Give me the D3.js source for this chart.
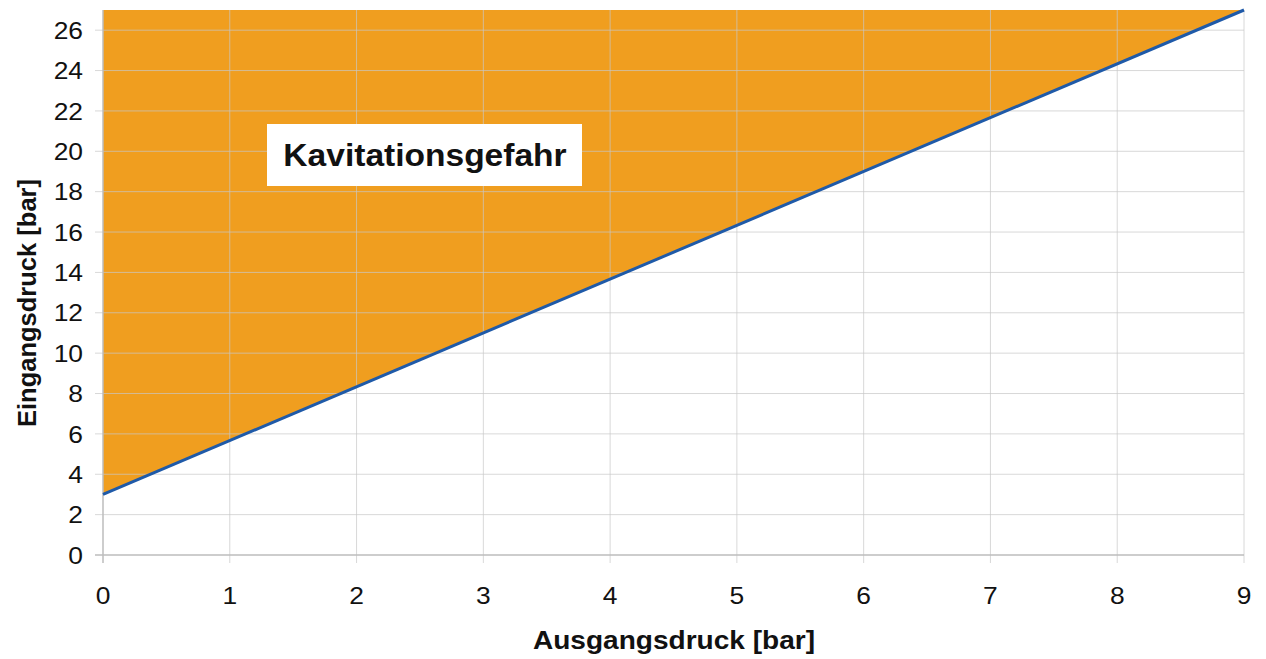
<!DOCTYPE html>
<html lang="de">
<head>
<meta charset="utf-8">
<title>Kavitationsgefahr</title>
<script src="https://cdn.jsdelivr.net/npm/d3@7"></script>
<style>
  body { margin: 0; background: #fff; }
  text { font-family: "Liberation Sans", Arial, sans-serif; }
</style>
</head>
<body>
<div id="main"></div>
<script>
// limit line: inlet pressure vs outlet pressure
const outletPressure = [0, 9];
const inletPressure = [3, 27];
const xTicks = [0, 1, 2, 3, 4, 5, 6, 7, 8, 9];
const yTicks = [0, 2, 4, 6, 8, 10, 12, 14, 16, 18, 20, 22, 24, 26];
const zoneLabel = "Kavitationsgefahr";

const width = 1266, height = 659;
const m = { left: 103, right: 22, top: 10, bottom: 104 };
const stretch = 1.1; // source picture is a bit wider than tall

const svg = d3.select("#main").append("svg")
  .attr("width", width)
  .attr("height", height);

const x = d3.scaleLinear().domain([0, 9]).range([m.left, width - m.right]);
const y = d3.scaleLinear().domain([0, 27]).range([height - m.bottom, m.top]);

const pts = outletPressure.map((d, i) => [d, inletPressure[i]]);

// orange danger area above the line
const area = d3.area()
  .x(d => x(d[0]))
  .y0(y(27))
  .y1(d => y(d[1]));

svg.append("path")
  .datum(pts)
  .attr("d", area)
  .attr("fill", "#f09e1f");

// grid
svg.append("g")
  .selectAll("line")
  .data(yTicks.filter(d => d > 0))
  .enter().append("line")
  .attr("x1", x(0) - 8).attr("x2", x(9))
  .attr("y1", d => y(d)).attr("y2", d => y(d))
  .attr("stroke", "#c8c8c8").attr("stroke-opacity", 0.7).attr("stroke-width", 1);

svg.append("g")
  .selectAll("line")
  .data(xTicks.filter(d => d > 0))
  .enter().append("line")
  .attr("x1", d => x(d)).attr("x2", d => x(d))
  .attr("y1", y(27)).attr("y2", y(0) + 8)
  .attr("stroke", "#c8c8c8").attr("stroke-opacity", 0.7).attr("stroke-width", 1);

// axes lines
svg.append("line")
  .attr("x1", x(0) - 8).attr("x2", x(9))
  .attr("y1", y(0)).attr("y2", y(0))
  .attr("stroke", "#bdbdbd").attr("stroke-width", 1.5);
svg.append("line")
  .attr("x1", x(0)).attr("x2", x(0))
  .attr("y1", y(27)).attr("y2", y(0) + 8)
  .attr("stroke", "#bdbdbd").attr("stroke-width", 1.5);

// limit line
svg.append("path")
  .datum(pts)
  .attr("d", d3.line().x(d => x(d[0])).y(d => y(d[1])))
  .attr("fill", "none")
  .attr("stroke", "#1f5aa8")
  .attr("stroke-width", 3);

// tick labels
svg.append("g")
  .selectAll("text")
  .data(yTicks)
  .enter().append("text")
  .attr("transform", d => "translate(" + (x(0) - 20) + "," + y(d) + ") scale(" + stretch + ",1)")
  .attr("dy", "0.36em")
  .attr("text-anchor", "end")
  .attr("font-size", "24px")
  .attr("fill", "#111")
  .text(d => d);

svg.append("g")
  .selectAll("text")
  .data(xTicks)
  .enter().append("text")
  .attr("transform", d => "translate(" + x(d) + ",604) scale(" + stretch + ",1)")
  .attr("text-anchor", "middle")
  .attr("font-size", "24px")
  .attr("fill", "#111")
  .text(d => d);

// axis titles
svg.append("text")
  .attr("transform", "translate(674,649) scale(" + stretch + ",1)")
  .attr("text-anchor", "middle")
  .attr("font-size", "25.5px").attr("font-weight", "bold")
  .attr("fill", "#111")
  .text("Ausgangsdruck [bar]");

svg.append("text")
  .attr("transform", "translate(36,303) rotate(-90)")
  .attr("text-anchor", "middle")
  .attr("font-size", "25.5px").attr("font-weight", "bold")
  .attr("fill", "#111")
  .text("Eingangsdruck [bar]");

// label box
svg.append("rect")
  .attr("x", 267).attr("y", 124)
  .attr("width", 315).attr("height", 62)
  .attr("fill", "#fff");
svg.append("text")
  .attr("transform", "translate(425,155) scale(" + stretch + ",1)")
  .attr("dy", "0.35em")
  .attr("text-anchor", "middle")
  .attr("font-size", "30.5px").attr("font-weight", "bold")
  .attr("fill", "#111")
  .text(zoneLabel);
</script>
</body>
</html>
